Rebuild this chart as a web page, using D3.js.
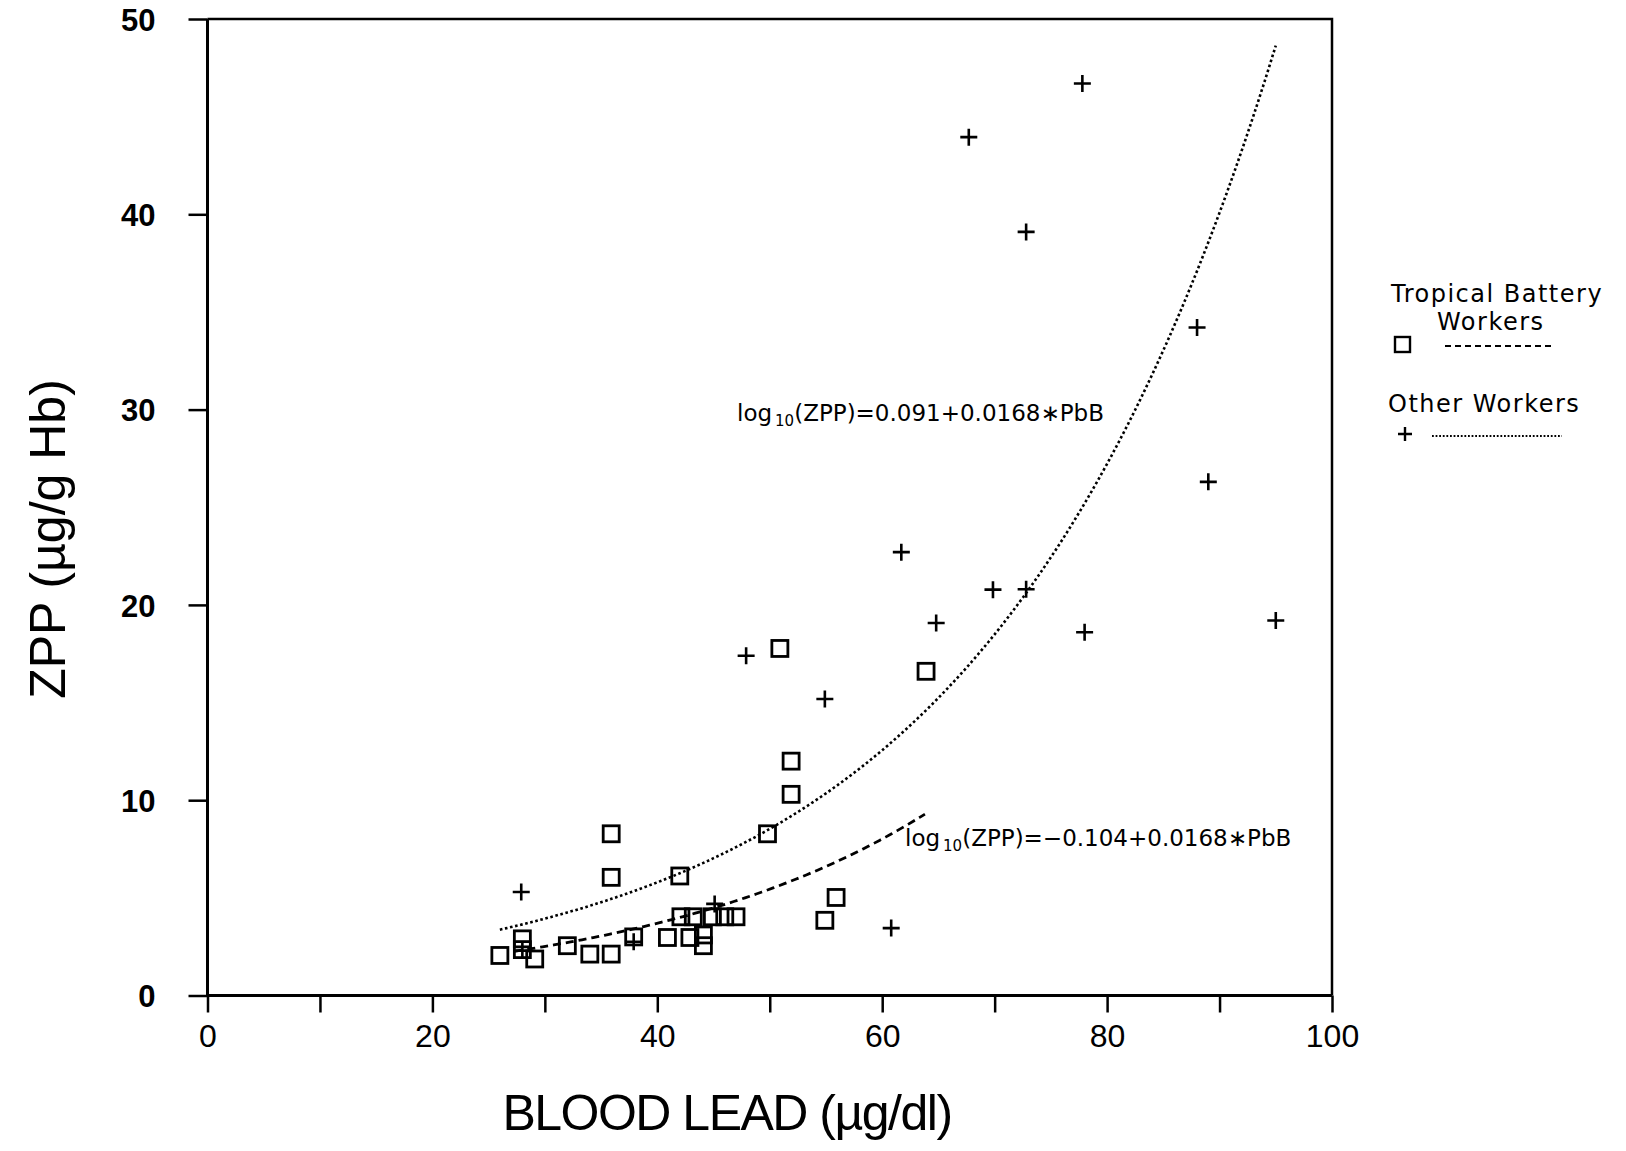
<!DOCTYPE html>
<html>
<head>
<meta charset="utf-8">
<script src="https://cdn.jsdelivr.net/npm/d3@7"></script>
<style>
  body { margin: 0; background: #fff; }
  svg { display: block; }
  .tick line { stroke: #000; stroke-width: 2.5; }
  .xaxis text { font-family: "Liberation Sans", Arial, sans-serif; font-size: 32px; }
  .yaxis text { font-family: "Liberation Sans", Arial, sans-serif; font-size: 31px; font-weight: bold; }
  .eq { font-family: "DejaVu Sans", sans-serif; font-size: 23px; }
  .legend { font-family: "DejaVu Sans", sans-serif; font-size: 24px; letter-spacing: 1.5px; }
  .title { font-family: "Liberation Sans", Arial, sans-serif; font-size: 50px; }
</style>
</head>
<body>
<svg class="chart" width="1626" height="1151"></svg>
<script>
// Tropical Battery Workers (squares)
const tropicalPbB = [26.0, 28.0, 28.0, 29.1, 32.0, 34.0, 35.9, 35.9, 35.9, 37.9, 40.9, 42.0, 42.1, 43.2,
  42.9, 44.1, 44.1, 44.9, 46.0, 47.0, 49.8, 50.9, 51.9, 51.9, 54.9, 55.9, 63.9];
const tropicalZPP = [2.05, 2.9, 2.35, 1.87, 2.55, 2.12, 2.12, 8.28, 6.05, 3.0, 2.97, 6.12, 4.03, 4.03,
  2.97, 3.1, 2.55, 4.03, 4.03, 4.03, 8.28, 17.77, 12.0, 10.3, 3.85, 5.02, 16.6];

// Other Workers (pluses)
const otherPbB = [27.9, 28.0, 37.9, 45.1, 47.9, 54.9, 60.8, 61.7, 64.8, 67.7, 69.85, 72.8, 72.8,
  77.8, 78.0, 88.0, 89.0, 95.0];
const otherZPP = [5.3, 2.3, 2.75, 4.69, 17.4, 15.18, 3.45, 22.7, 19.07, 43.95, 20.78, 39.1, 20.8,
  46.7, 18.6, 34.2, 26.3, 19.2];

// fitted lines: log10(ZPP) = a + b*PbB
const fitIntercepts = [-0.104, 0.091];
const fitSlope = 0.0168;
const fitRanges = [[27.3, 63.8], [26.0, 95.0]];

const xTicks = [0, 10, 20, 30, 40, 50, 60, 70, 80, 90, 100];
const xLabels = [0, 20, 40, 60, 80, 100];
const yTicks = [0, 10, 20, 30, 40, 50];

const svg = d3.select("svg.chart");
const plotLeft = 207.5, plotRight = 1332, plotTop = 19, plotBottom = 995.5;

const x = d3.scaleLinear().domain([0, 100]).range([plotLeft, plotRight]);
const y = d3.scaleLinear().domain([0, 50]).range([plotBottom, plotTop]);

// axes
svg.append("g")
  .attr("class", "xaxis")
  .attr("transform", `translate(0,${plotBottom})`)
  .call(d3.axisBottom(x).tickValues(xTicks).tickSize(17).tickSizeOuter(0)
    .tickFormat(d => (xLabels.includes(d) ? d : "")))
  .call(g => g.select(".domain").remove())
  .call(g => g.selectAll("text").attr("dy", 0).attr("y", 51).attr("fill", "#000"));

svg.append("g")
  .attr("class", "yaxis")
  .attr("transform", `translate(${plotLeft},0)`)
  .call(d3.axisLeft(y).tickValues(yTicks).tickSize(19).tickSizeOuter(0))
  .call(g => g.select(".domain").remove())
  .call(g => g.selectAll("text").attr("x", -52).attr("dy", "0.36em").attr("fill", "#000"));

// frame
svg.append("path")
  .attr("d", `M${plotLeft},${plotTop}H${plotRight}V${plotBottom}`)
  .attr("fill", "none")
  .attr("stroke", "#000")
  .attr("stroke-width", 2.5);
svg.append("path")
  .attr("d", `M${plotLeft},${plotTop}V${plotBottom}H${plotRight}`)
  .attr("fill", "none")
  .attr("stroke", "#000")
  .attr("stroke-width", 3);

// fitted curves
const line = d3.line().x(d => x(d[0])).y(d => y(d[1])).curve(d3.curveMonotoneX);
const curveStyles = [
  { dash: "8,5", width: 2.8 },
  { dash: "2.6,2.6", width: 2.6 }
];
fitIntercepts.forEach((a, i) => {
  const pts = d3.range(fitRanges[i][0], fitRanges[i][1] + 0.001, 0.5)
    .map(v => [v, Math.pow(10, a + fitSlope * v)]);
  svg.append("path")
    .attr("d", line(pts))
    .attr("fill", "none")
    .attr("stroke", "#000")
    .attr("stroke-width", curveStyles[i].width)
    .attr("stroke-dasharray", curveStyles[i].dash);
});

// markers
const sq = 16;
svg.append("g")
  .selectAll("rect")
  .data(tropicalPbB)
  .enter()
  .append("rect")
  .attr("x", (d, i) => x(d) - sq / 2)
  .attr("y", (d, i) => y(tropicalZPP[i]) - sq / 2)
  .attr("width", sq)
  .attr("height", sq)
  .attr("fill", "none")
  .attr("stroke", "#000")
  .attr("stroke-width", 2.8);

const pl = 8.5;
svg.append("g")
  .selectAll("path")
  .data(otherPbB)
  .enter()
  .append("path")
  .attr("d", (d, i) => {
    const cx = x(d), cy = y(otherZPP[i]);
    return `M${cx - pl},${cy}H${cx + pl}M${cx},${cy - pl}V${cy + pl}`;
  })
  .attr("stroke", "#000")
  .attr("stroke-width", 2.6);

// equations
const eqs = [
  { x: 737, y: 421, text: "(ZPP)=0.091+0.0168∗PbB" },
  { x: 905, y: 846, text: "(ZPP)=−0.104+0.0168∗PbB" }
];
eqs.forEach(e => {
  const t = svg.append("text").attr("class", "eq").attr("x", e.x).attr("y", e.y);
  t.append("tspan").text("log");
  t.append("tspan").attr("dx", 3).attr("dy", 5).attr("font-size", 15).text("10");
  t.append("tspan").attr("dy", -5).text(e.text);
});

// legend
svg.append("text").attr("class", "legend").attr("x", 1391).attr("y", 302).text("Tropical Battery");
svg.append("text").attr("class", "legend").attr("x", 1437).attr("y", 330).text("Workers");
svg.append("rect")
  .attr("x", 1395).attr("y", 337).attr("width", 15).attr("height", 15)
  .attr("fill", "none").attr("stroke", "#000").attr("stroke-width", 2.4);
svg.append("line")
  .attr("x1", 1445).attr("x2", 1553).attr("y1", 346).attr("y2", 346)
  .attr("stroke", "#000").attr("stroke-width", 2).attr("stroke-dasharray", "6,4");

svg.append("text").attr("class", "legend").attr("x", 1388).attr("y", 412).text("Other Workers");
svg.append("path")
  .attr("d", "M1398,434H1412M1405,427V441")
  .attr("stroke", "#000").attr("stroke-width", 2.4);
svg.append("line")
  .attr("x1", 1432).attr("x2", 1562).attr("y1", 436).attr("y2", 436)
  .attr("stroke", "#000").attr("stroke-width", 2).attr("stroke-dasharray", "1.8,1.8");

// axis titles
svg.append("text")
  .attr("class", "title")
  .attr("x", 727)
  .attr("y", 1130)
  .attr("text-anchor", "middle")
  .attr("letter-spacing", -1.5)
  .text("BLOOD LEAD (µg/dl)");

svg.append("text")
  .attr("class", "title")
  .attr("transform", "translate(65,539) rotate(-90)")
  .attr("text-anchor", "middle")
  .attr("font-size", 52)
  .text("ZPP (µg/g Hb)");
</script>
</body>
</html>
